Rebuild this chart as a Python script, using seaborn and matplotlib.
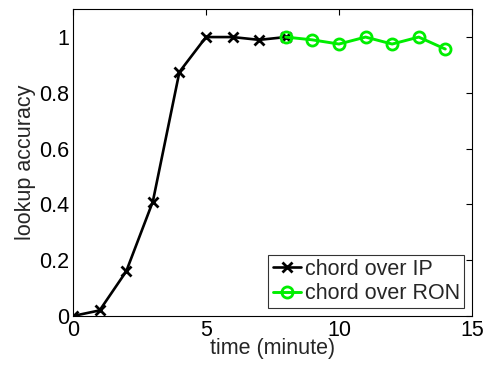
import matplotlib
matplotlib.use("Agg")
import matplotlib.pyplot as plt
import seaborn as sns
import pandas as pd

# lookup accuracy over time
ip_time = [0, 1, 2, 3, 4, 5, 6, 7, 8]
ip_acc = [0.0, 0.02, 0.16, 0.41, 0.875, 1.0, 1.0, 0.99, 1.0]
ron_time = [8, 9, 10, 11, 12, 13, 14]
ron_acc = [1.0, 0.99, 0.975, 1.0, 0.975, 1.0, 0.957]
labels = ["chord over IP", "chord over RON"]

sns.set_style("white")
plt.rcParams['font.family'] = ['Liberation Sans', 'DejaVu Sans']

df_ip = pd.DataFrame({"time": ip_time, "acc": ip_acc})
df_ron = pd.DataFrame({"time": ron_time, "acc": ron_acc})

fig = plt.figure(figsize=(4.87, 3.67), dpi=100)
ax = fig.add_axes([0.150, 0.139, 0.819, 0.836])

sns.lineplot(data=df_ip, x="time", y="acc", ax=ax, color="black", lw=1.9,
             marker="x", markersize=6.5, markeredgewidth=2,
             markeredgecolor="black", label=labels[0])
sns.lineplot(data=df_ron, x="time", y="acc", ax=ax, color="#00ee00", lw=2.1,
             marker="o", markersize=8, markeredgewidth=2,
             markerfacecolor="none", markeredgecolor="#00ee00", label=labels[1])

ax.set_xlim(0, 15)
ax.set_ylim(0, 1.1)
ax.set_xticks([0, 5, 10, 15])
ax.set_yticks([0, 0.2, 0.4, 0.6, 0.8, 1])
ax.set_yticklabels(["0", "0.2", "0.4", "0.6", "0.8", "1"])
ax.tick_params(direction="in", length=4, width=0.8, top=True, right=True,
               labelsize=15.5, pad=3, colors="black")
for s in ax.spines.values():
    s.set_color("black")
    s.set_linewidth(0.8)

ax.set_xlabel("time (minute)", fontsize=15.5, labelpad=-2)
ax.set_ylabel("lookup accuracy", fontsize=15.5, labelpad=2)

leg = ax.legend(loc="lower right", fontsize=15.5, frameon=True, fancybox=False,
                edgecolor="black", borderaxespad=0.35, handlelength=1.3,
                handletextpad=0.2, borderpad=0.2, labelspacing=0.15)
leg.get_frame().set_linewidth(0.8)

fig.savefig("out.png", dpi=100)
